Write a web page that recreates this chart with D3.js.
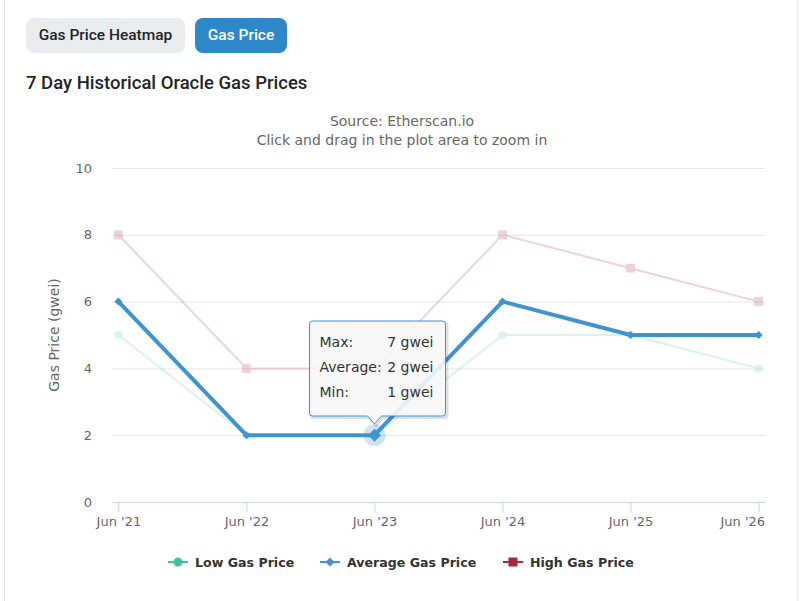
<!DOCTYPE html>
<html>
<head>
<meta charset="utf-8">
<script src="https://cdn.jsdelivr.net/npm/d3@7"></script>
<style>
  body { margin: 0; background: #fff; width: 808px; height: 601px; overflow: hidden; position: relative; font-family: Roboto, "Noto Sans", sans-serif; }
  .card { position: absolute; left: 4px; top: -12px; width: 792px; height: 640px; border: 1px solid #e6e8ec; border-radius: 12px; }
  .btn { position: absolute; top: 18px; height: 35px; line-height: 35px; border-radius: 8px; font-size: 15.5px; font-weight: 500; text-align: center; }
  #btn1 { left: 26px; width: 159px; background: #e9ecef; color: #212529; }
  #btn2 { left: 195px; width: 92px; background: #2d87c8; color: #fff; }
  h3 { position: absolute; left: 26px; top: 72px; margin: 0; font-size: 18.5px; font-weight: 500; color: #212529; }
  svg { position: absolute; left: 0; top: 0; }
</style>
</head>
<body>
<div class="card"></div>
<div class="btn" id="btn1">Gas Price Heatmap</div>
<div class="btn" id="btn2">Gas Price</div>
<h3>7 Day Historical Oracle Gas Prices</h3>
<svg id="chart" width="808" height="601"></svg>
<script>
//chart data
var categories = ["Jun '21", "Jun '22", "Jun '23", "Jun '24", "Jun '25", "Jun '26"];
var lowValues = [5, 2, 2, 5, 5, 4];
var avgValues = [6, 2, 2, 6, 5, 5];
var highValues = [8, 4, 4, 8, 7, 6];
var yTicks = [0, 2, 4, 6, 8, 10];
var seriesNames = ["Low Gas Price", "Average Gas Price", "High Gas Price"];
var tooltipLabels = ["Max:", "Average:", "Min:"];
var tooltipValues = ["7 gwei", "2 gwei", "1 gwei"];
var hoverIndex = 2;

function drawChart(){
    var font = "'DejaVu Sans', Verdana, sans-serif";
    var svg = d3.select("#chart");

    var plotLeft = 112, plotRight = 765, plotTop = 168, plotBottom = 502;

    //scales
    var x = d3.scalePoint().domain(categories).range([plotLeft, plotRight]).padding(0.05);
    var y = d3.scaleLinear().domain([0, 10]).range([plotBottom, plotTop]);

    //subtitle
    svg.append("text").attr("x", 402).attr("y", 126).attr("text-anchor", "middle")
        .attr("font-family", font).attr("font-size", 14).attr("fill", "#666")
        .text("Source: Etherscan.io");
    svg.append("text").attr("x", 402).attr("y", 145).attr("text-anchor", "middle")
        .attr("font-family", font).attr("font-size", 14).attr("fill", "#666")
        .text("Click and drag in the plot area to zoom in");

    //y axis with gridlines
    var yAxis = svg.append("g")
        .attr("transform", "translate(" + plotLeft + ",0)")
        .call(d3.axisLeft(y).tickValues(yTicks).tickSize(-(plotRight - plotLeft)).tickPadding(20));
    yAxis.select(".domain").remove();
    yAxis.selectAll("line").attr("stroke", "#e6e6e6");
    yAxis.selectAll("text").attr("font-family", font).attr("font-size", 13).attr("fill", "#666");

    //y axis title
    svg.append("text")
        .attr("transform", "translate(59,335) rotate(-90)")
        .attr("text-anchor", "middle")
        .attr("font-family", font).attr("font-size", 14).attr("fill", "#666")
        .text("Gas Price (gwei)");

    //x axis
    var xAxis = svg.append("g")
        .attr("transform", "translate(0," + plotBottom + ")")
        .call(d3.axisBottom(x).tickSize(10).tickPadding(5).tickSizeOuter(0));
    xAxis.select(".domain").attr("stroke", "#ccd6eb");
    xAxis.selectAll("line").attr("stroke", "#ccd6eb");
    xAxis.selectAll("text").attr("font-family", font).attr("font-size", 13).attr("fill", "#666");
    xAxis.selectAll(".tick").filter(function(d, i){ return i == categories.length - 1; })
        .select("text").attr("text-anchor", "end").attr("x", 6);

    var line = d3.line()
        .x(function(d, i){ return x(categories[i]); })
        .y(function(d){ return y(d); });

    //symbols
    function drawMarker(g, type, cx, cy, size, color){
        if (type == "circle"){
            g.append("circle").attr("cx", cx).attr("cy", cy).attr("r", size / 2).attr("fill", color);
        } else if (type == "square"){
            g.append("rect").attr("x", cx - size / 2).attr("y", cy - size / 2)
                .attr("width", size).attr("height", size).attr("fill", color);
        } else {
            var h = size / 2;
            g.append("path").attr("d", "M" + cx + "," + (cy - h) + "L" + (cx + h) + "," + cy +
                "L" + cx + "," + (cy + h) + "L" + (cx - h) + "," + cy + "Z").attr("fill", color);
        }
    }

    var series = [
        {data: lowValues, color: "#3fc59d", marker: "circle", size: 8, width: 2, opacity: 0.2},
        {data: highValues, color: "#a8283a", marker: "square", size: 9, width: 2, opacity: 0.2},
        {data: avgValues, color: "#4093d1", marker: "diamond", size: 8, width: 4, opacity: 1}
    ];

    series.forEach(function(s){
        var g = svg.append("g").attr("opacity", s.opacity);
        g.append("path").datum(s.data).attr("d", line)
            .attr("fill", "none").attr("stroke", s.color).attr("stroke-width", s.width)
            .attr("stroke-linejoin", "round").attr("stroke-linecap", "round");
        if (s.opacity == 1){
            //hover halo
            g.append("circle").attr("cx", x(categories[hoverIndex])).attr("cy", y(s.data[hoverIndex]))
                .attr("r", 11).attr("fill", s.color).attr("opacity", 0.25);
        }
        s.data.forEach(function(d, i){
            var sz = (s.opacity == 1 && i == hoverIndex) ? 13 : s.size;
            drawMarker(g, s.marker, x(categories[i]), y(d), sz, s.color);
        });
    });

    //tooltip
    var tx = x(categories[hoverIndex]);
    var tip = svg.append("g");
    var bx = tx - 65, by = 321, bw = 136, bh = 95;
    var tipPath = "M" + (bx + 3) + "," + by + "H" + (bx + bw - 3) + "Q" + (bx + bw) + "," + by + " " + (bx + bw) + "," + (by + 3) +
        "V" + (by + bh - 3) + "Q" + (bx + bw) + "," + (by + bh) + " " + (bx + bw - 3) + "," + (by + bh) +
        "H" + (tx + 7) + "L" + tx + "," + (by + bh + 8) + "L" + (tx - 7) + "," + (by + bh) +
        "H" + (bx + 3) + "Q" + bx + "," + (by + bh) + " " + bx + "," + (by + bh - 3) +
        "V" + (by + 3) + "Q" + bx + "," + by + " " + (bx + 3) + "," + by + "Z";
    tip.append("path").attr("d", tipPath).attr("transform", "translate(1.5,1.5)")
        .attr("fill", "none").attr("stroke", "#000").attr("stroke-opacity", 0.12).attr("stroke-width", 3);
    tip.append("path").attr("d", tipPath)
        .attr("fill", "#f7f7f7").attr("fill-opacity", 0.9).attr("stroke", "#4093d1").attr("stroke-width", 1);
    tooltipLabels.forEach(function(lbl, i){
        tip.append("text").attr("x", bx + 10).attr("y", by + 26 + i * 25)
            .attr("font-family", font).attr("font-size", 14).attr("fill", "#333").text(lbl);
        tip.append("text").attr("x", bx + bw - 12).attr("y", by + 26 + i * 25).attr("text-anchor", "end")
            .attr("font-family", font).attr("font-size", 14).attr("fill", "#333").text(tooltipValues[i]);
    });

    //legend
    var legendItems = [
        {name: seriesNames[0], color: "#3fc59d", marker: "circle", x: 168},
        {name: seriesNames[1], color: "#4093d1", marker: "diamond", x: 320},
        {name: seriesNames[2], color: "#a8283a", marker: "square", x: 503}
    ];
    legendItems.forEach(function(item){
        var g = svg.append("g");
        g.append("line").attr("x1", item.x).attr("x2", item.x + 20).attr("y1", 562).attr("y2", 562)
            .attr("stroke", item.color).attr("stroke-width", 2);
        drawMarker(g, item.marker, item.x + 10, 562, 9, item.color);
        g.append("text").attr("x", item.x + 27).attr("y", 567)
            .attr("font-family", font).attr("font-size", 12.6).attr("font-weight", "bold").attr("fill", "#333")
            .text(item.name);
    });
}

drawChart();
</script>
</body>
</html>
